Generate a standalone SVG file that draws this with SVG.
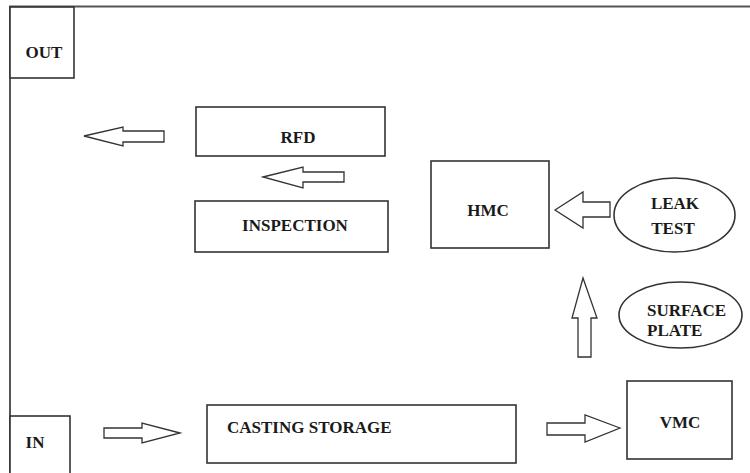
<svg xmlns="http://www.w3.org/2000/svg" width="750" height="473" viewBox="0 0 750 473">
<style>
.box{fill:#fff;stroke:#333;stroke-width:1.6}
.frame{fill:none;stroke:#555;stroke-width:2}
.arr{fill:#fff;stroke:#333;stroke-width:1.3;stroke-linejoin:miter}
.t{font-family:'Liberation Serif','DejaVu Serif','Times New Roman',Times,serif;font-weight:700;font-size:17px;fill:#1a1a1a}
</style>
<rect width="750" height="473" fill="#fff"/>
<g id="frame">
<path class="frame" d="M10,474 V6.5 H751"/>
</g>
<g id="out">
<rect class="box" x="10" y="7" width="64" height="71"/>
<text class="t" x="44" y="58" text-anchor="middle" font-family="Liberation Serif, serif">OUT</text>
</g>
<g id="in">
<rect class="box" x="10" y="416" width="60" height="60"/>
<text class="t" x="35" y="448" text-anchor="middle">IN</text>
</g>
<g id="rfd">
<rect class="box" x="196" y="107" width="189" height="49"/>
<text class="t" x="298" y="143" text-anchor="middle">RFD</text>
</g>
<g id="inspection">
<rect class="box" x="195" y="201" width="193" height="51"/>
<text class="t" x="295" y="231" text-anchor="middle">INSPECTION</text>
</g>
<g id="hmc">
<rect class="box" x="431" y="161" width="118" height="87"/>
<text class="t" x="488" y="216" text-anchor="middle">HMC</text>
</g>
<g id="leak-test">
<ellipse class="box" cx="674.5" cy="215" rx="60.5" ry="37"/>
<text class="t" x="675" y="209" text-anchor="middle">LEAK</text>
<text class="t" x="673" y="234" text-anchor="middle">TEST</text>
</g>
<g id="surface-plate">
<ellipse class="box" cx="680.5" cy="315" rx="61.5" ry="33"/>
<text class="t" x="647" y="316">SURFACE</text>
<text class="t" x="647" y="336">PLATE</text>
</g>
<g id="vmc">
<rect class="box" x="627" y="381" width="105" height="78"/>
<text class="t" x="680" y="428" text-anchor="middle">VMC</text>
</g>
<g id="casting-storage">
<rect class="box" x="207" y="405" width="309" height="58"/>
<text class="t" x="227" y="433">CASTING STORAGE</text>
</g>
<g id="connectors">
<polygon class="arr" points="84,136 123,127 123,131 164,131 164,142 123,142 123,146"/>
<polygon class="arr" points="263,177 303,167 303,172 344,172 344,182 303,182 303,188"/>
<polygon class="arr" points="555,210 583,192 583,202 610,202 610,217 583,217 583,228"/>
<polygon class="arr" points="583,278 597,318 591,318 591,357 578,357 578,318 572,318"/>
<polygon class="arr" points="620,428 585,415 585,423 547,423 547,435 585,435 585,442"/>
<polygon class="arr" points="180,433 142,423 142,428 104,428 104,438 142,438 142,443"/>
</g>
</svg>
